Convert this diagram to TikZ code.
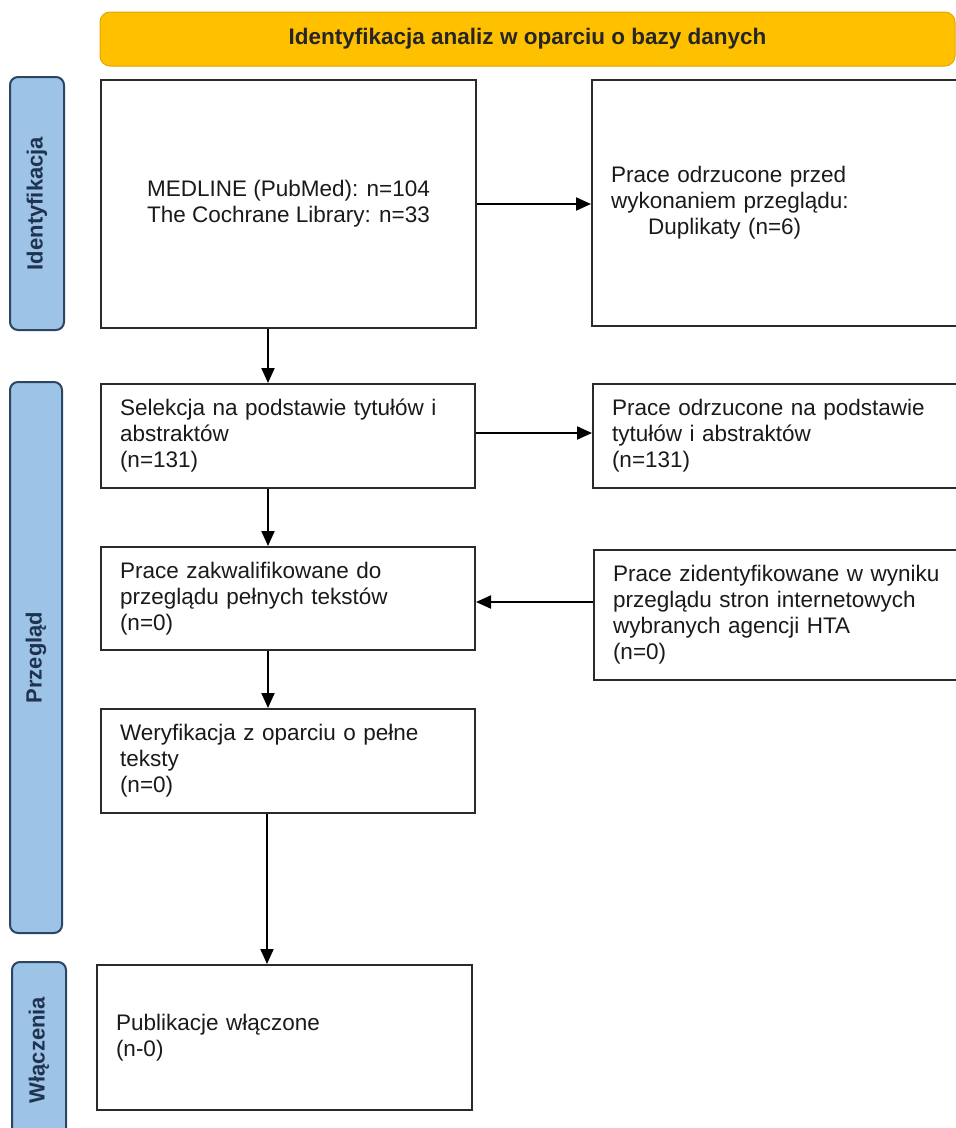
\documentclass[tikz,border=0pt]{standalone}
\usepackage{fontspec}
\setmainfont{Liberation Sans}
\usetikzlibrary{arrows.meta,calc}
\definecolor{hdr}{HTML}{FFC000}
\definecolor{hdrline}{HTML}{E0A800}
\definecolor{lblfill}{HTML}{9DC3E6}
\definecolor{lblline}{HTML}{2B4562}
\definecolor{lbltext}{HTML}{1F3350}
\definecolor{boxline}{HTML}{2A2A2A}
\definecolor{txt}{HTML}{1A1A1A}
\begin{document}
\begin{tikzpicture}[x=1pt,y=-1pt,
 box/.style={draw=boxline, line width=2pt, fill=white, inner xsep=19pt, inner ysep=0pt,
   align=left, font=\fontsize{22.5}{26}\selectfont, text=txt},
 lbl/.style={draw=lblline, fill=lblfill, line width=2pt, rounded corners=8pt, inner sep=0pt,
   font=\bfseries\fontsize{22}{26}\selectfont, text=lbltext, rotate=90},
 arr/.style={line width=2pt, draw=black, -{Triangle[length=15pt,width=13pt]}}]
\useasboundingbox (0,0) rectangle (956,1128);
\fill[white] (0,0) rectangle (956,1128);

% header
\node[draw=hdrline, fill=hdr, line width=1pt, rounded corners=10pt, minimum width=855pt,
  minimum height=54pt, font=\bfseries\fontsize{22.5}{26}\selectfont, text=black!85]
  (head) at (527.5,39) {Identyfikacja analiz w oparciu o bazy danych};

% side labels
\node[lbl, minimum width=253pt, minimum height=54pt] (l1) at (37,203.5) {Identyfikacja};
\node[lbl, minimum width=551pt, minimum height=52pt] (l2) at (36,657.5) {Przegląd};
\node[lbl, minimum width=176pt, minimum height=54pt] (l3) at (39,1050) {Włączenia};

% left column
\node[box, inner xsep=0pt, minimum width=375pt, minimum height=248pt] (b1) at (288.5,204)
  {MEDLINE (PubMed): n=104\\The Cochrane Library: n=33};
\node[box, minimum width=374pt, minimum height=104pt, text width=336pt] (b2) at (288,436)
  {Selekcja na podstawie tytułów i\\abstraktów\\(n=131)};
\node[box, minimum width=374pt, minimum height=103pt, text width=336pt] (b3) at (288,598.5)
  {Prace zakwalifikowane do\\przeglądu pełnych tekstów\\(n=0)};
\node[box, minimum width=374pt, minimum height=104pt, text width=336pt] (b4) at (288,761)
  {Weryfikacja z oparciu o pełne\\teksty\\(n=0)};
\node[box, minimum width=375pt, minimum height=145pt, text width=337pt] (b5) at (284.5,1037.5)
  {Publikacje włączone\\(n-0)};

% right column
\node[box, minimum width=383pt, minimum height=246pt, text width=345pt] (r1) at (783.5,203)
  {Prace odrzucone przed\\wykonaniem przeglądu:\\\hspace*{37pt}Duplikaty (n=6)};
\node[box, minimum width=382pt, minimum height=104pt, text width=344pt] (r2) at (784,436)
  {Prace odrzucone na podstawie\\tytułów i abstraktów\\(n=131)};
\node[box, minimum width=381pt, minimum height=130pt, text width=343pt] (r3) at (784.5,615)
  {Prace zidentyfikowane w wyniku\\przeglądu stron internetowych\\wybranych agencji HTA\\(n=0)};

% vertical arrows
\draw[arr] ([xshift=-20.5pt]b1.south) -- ([xshift=-20pt]b2.north);
\draw[arr] ([xshift=-20pt]b2.south) -- ([xshift=-20pt]b3.north);
\draw[arr] ([xshift=-20pt]b3.south) -- ([xshift=-20pt]b4.north);
\draw[arr] ([xshift=-21pt]b4.south) -- ([xshift=-17.5pt]b5.north);

% horizontal arrows
\draw[arr] (b1.east) -- (b1.east -| r1.west);
\coordinate (a2) at ($(b2.east)+(0,-3)$);
\draw[arr] (a2) -- (a2 -| r2.west);
\coordinate (a3) at ($(b3.east)+(0,3.5)$);
\draw[arr] (a3 -| r3.west) -- (a3);
\end{tikzpicture}
\end{document}
